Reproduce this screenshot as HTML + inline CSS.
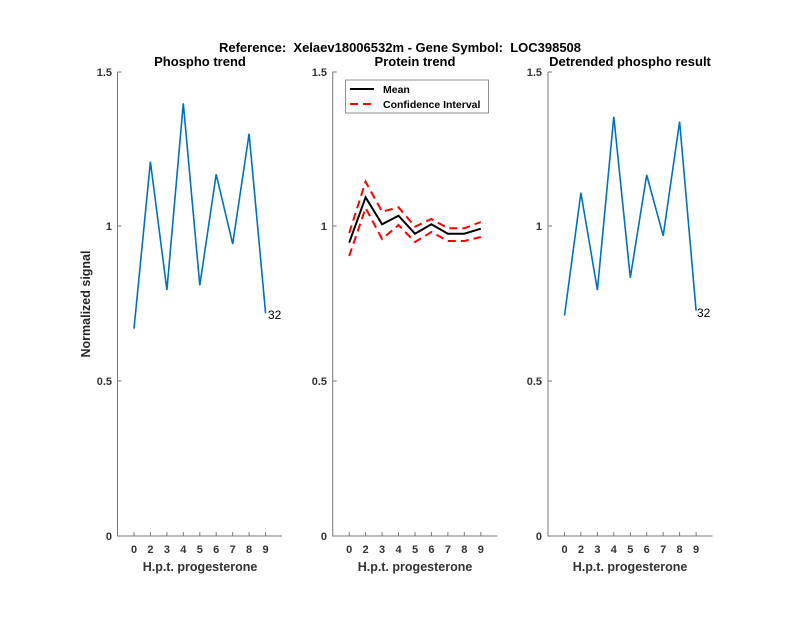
<!DOCTYPE html>
<html><head><style>body{margin:0;background:#fff}svg{display:block}text{font-family:"Liberation Sans",Arial,sans-serif}</style></head><body>
<svg width="800" height="618" xmlns="http://www.w3.org/2000/svg">
<rect width="800" height="618" fill="#fff"/>
<text x="400" y="52" text-anchor="middle" font-size="13" font-weight="bold">Reference:&#160; Xelaev18006532m - Gene Symbol:&#160; LOC398508</text>
<g id="ax1" font-size="11" fill="#333" font-weight="bold">
<g stroke="#777" stroke-width="1" fill="none">
<path d="M117.5,72V536H282"/>
<path d="M117.5,72h4M117.5,226h4M117.5,381h4"/>
<path d="M134,536v-4M150.4,536v-4M166.9,536v-4M183.3,536v-4M199.8,536v-4M216.2,536v-4M232.7,536v-4M249.1,536v-4M265.6,536v-4"/>
</g>
<text x="112" y="76" text-anchor="end">1.5</text><text x="112" y="230" text-anchor="end">1</text><text x="112" y="385" text-anchor="end">0.5</text><text x="112" y="540" text-anchor="end">0</text>
<g text-anchor="middle"><text x="134" y="553">0</text><text x="150.4" y="553">2</text><text x="166.9" y="553">3</text><text x="183.3" y="553">4</text><text x="199.8" y="553">5</text><text x="216.2" y="553">6</text><text x="232.7" y="553">7</text><text x="249.1" y="553">8</text><text x="265.6" y="553">9</text></g>
<text x="200" y="571" text-anchor="middle" font-size="12.5" font-weight="bold">H.p.t. progesterone</text>
<text x="200" y="66" text-anchor="middle" font-size="13" font-weight="bold" fill="#000">Phospho trend</text>
<polyline fill="none" stroke="#0072BD" stroke-width="1.6" points="134,328.7 150.4,161.7 166.9,290 183.3,103.3 199.8,285.3 216.2,174.3 232.7,244 249.1,133.7 265.6,313.3"/>
<text x="268" y="319" fill="#000" font-size="12" font-weight="normal">32</text>
</g>
<text transform="translate(90,304) rotate(-90)" text-anchor="middle" font-size="12.5" font-weight="bold" fill="#262626">Normalized signal</text>
<g font-size="11" fill="#333" font-weight="bold">
<g stroke="#777" stroke-width="1" fill="none">
<path d="M332.7,72V536H497.2"/>
<path d="M332.7,72h4M332.7,226h4M332.7,381h4"/>
<path d="M349.2,536v-4M365.6,536v-4M382.1,536v-4M398.5,536v-4M415,536v-4M431.4,536v-4M447.9,536v-4M464.3,536v-4M480.8,536v-4"/>
</g>
<text x="327" y="76" text-anchor="end">1.5</text><text x="327" y="230" text-anchor="end">1</text><text x="327" y="385" text-anchor="end">0.5</text><text x="327" y="540" text-anchor="end">0</text>
<g text-anchor="middle"><text x="349.2" y="553">0</text><text x="365.6" y="553">2</text><text x="382.1" y="553">3</text><text x="398.5" y="553">4</text><text x="415" y="553">5</text><text x="431.4" y="553">6</text><text x="447.9" y="553">7</text><text x="464.3" y="553">8</text><text x="480.8" y="553">9</text></g>
<text x="415" y="571" text-anchor="middle" font-size="12.5" font-weight="bold">H.p.t. progesterone</text>
<text x="415" y="66" text-anchor="middle" font-size="13" font-weight="bold" fill="#000">Protein trend</text>
<polyline fill="none" stroke="#f00" stroke-width="2" stroke-dasharray="8,5" points="349.2,233 365.6,181.7 382.1,211.7 398.5,207.3 415,226.7 431.4,219 447.9,228.3 464.3,228.3 480.8,222"/>
<polyline fill="none" stroke="#f00" stroke-width="2" stroke-dasharray="8,5" points="349.2,256 365.6,208 382.1,239 398.5,225 415,242 431.4,232 447.9,241 464.3,241 480.8,237"/>
<polyline fill="none" stroke="#000" stroke-width="2" points="349.2,242.7 365.6,197.3 382.1,224.3 398.5,215.7 415,233.7 431.4,224.3 447.9,233.7 464.3,233.7 480.8,228.7"/>
<rect x="345.5" y="80" width="143" height="33" fill="#fff" stroke="#777" stroke-width="0.8"/>
<path d="M350,89h24" stroke="#000" stroke-width="2"/>
<path d="M350,104h24" stroke="#f00" stroke-width="2" stroke-dasharray="8,5"/>
<text x="383" y="93" font-weight="bold" fill="#000" font-size="10.5">Mean</text>
<text x="383" y="108" font-weight="bold" fill="#000" font-size="10.5">Confidence Interval</text>
</g>
<g font-size="11" fill="#333" font-weight="bold">
<g stroke="#777" stroke-width="1" fill="none">
<path d="M548,72V536H712.5"/>
<path d="M548,72h4M548,226h4M548,381h4"/>
<path d="M564.5,536v-4M580.9,536v-4M597.4,536v-4M613.8,536v-4M630.3,536v-4M646.7,536v-4M663.2,536v-4M679.6,536v-4M696.1,536v-4"/>
</g>
<text x="542" y="76" text-anchor="end">1.5</text><text x="542" y="230" text-anchor="end">1</text><text x="542" y="385" text-anchor="end">0.5</text><text x="542" y="540" text-anchor="end">0</text>
<g text-anchor="middle"><text x="564.5" y="553">0</text><text x="580.9" y="553">2</text><text x="597.4" y="553">3</text><text x="613.8" y="553">4</text><text x="630.3" y="553">5</text><text x="646.7" y="553">6</text><text x="663.2" y="553">7</text><text x="679.6" y="553">8</text><text x="696.1" y="553">9</text></g>
<text x="630" y="571" text-anchor="middle" font-size="12.5" font-weight="bold">H.p.t. progesterone</text>
<text x="630" y="66" text-anchor="middle" font-size="13" font-weight="bold" fill="#000">Detrended phospho result</text>
<polyline fill="none" stroke="#0072BD" stroke-width="1.6" points="564.5,315.7 580.9,192.7 597.4,290 613.8,116.7 630.3,277.7 646.7,175 663.2,235.7 679.6,121.7 696.1,310.7"/>
<text x="697" y="317" fill="#000" font-size="12" font-weight="normal">32</text>
</g>
</svg>
</body></html>
